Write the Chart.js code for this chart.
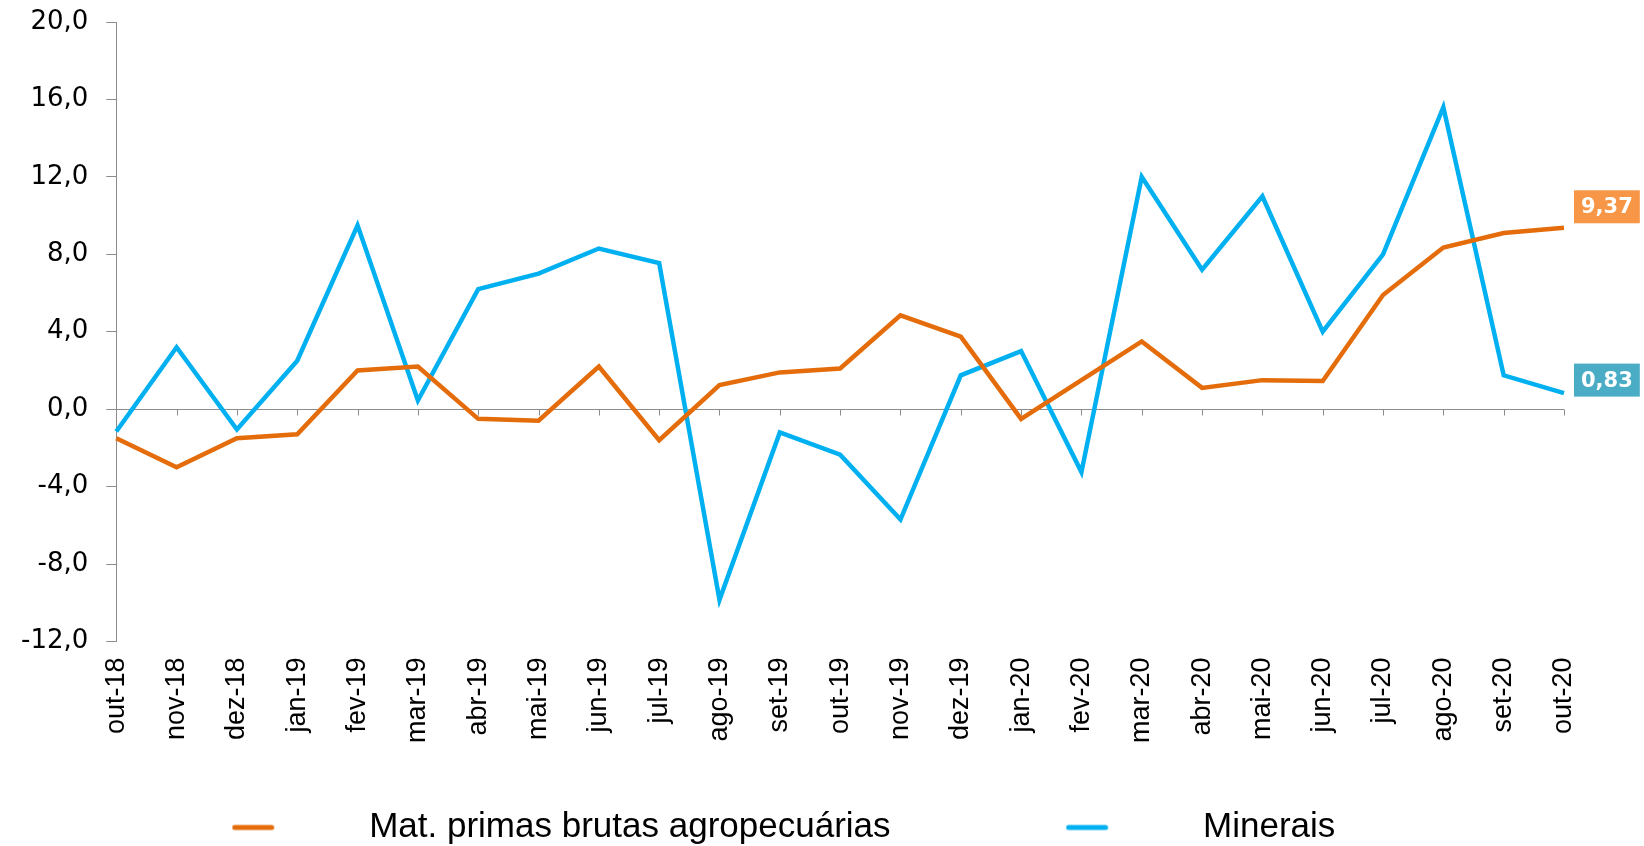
<!DOCTYPE html>
<html>
<head>
<meta charset="utf-8">
<script src="https://cdn.jsdelivr.net/npm/chart.js@4/dist/chart.umd.min.js"></script>
<style>
  html, body { margin: 0; padding: 0; background: #fff; }
  #wrap { width: 1644px; height: 846px; position: relative; }
</style>
</head>
<body>
<div id="wrap"><canvas id="chart"></canvas></div>
<script>
'use strict';

const months = ['out-18', 'nov-18', 'dez-18', 'jan-19', 'fev-19', 'mar-19', 'abr-19', 'mai-19',
  'jun-19', 'jul-19', 'ago-19', 'set-19', 'out-19', 'nov-19', 'dez-19', 'jan-20', 'fev-20',
  'mar-20', 'abr-20', 'mai-20', 'jun-20', 'jul-20', 'ago-20', 'set-20', 'out-20'];

const agro = [-1.5, -3.0, -1.5, -1.3, 2.0, 2.2, -0.5, -0.6, 2.2, -1.6, 1.25, 1.9, 2.1, 4.85,
  3.75, -0.5, 1.5, 3.5, 1.1, 1.5, 1.45, 5.9, 8.35, 9.1, 9.37];

const minerais = [-1.15, 3.2, -1.05, 2.5, 9.5, 0.45, 6.2, 7.0, 8.3, 7.55, -9.85, -1.2, -2.35,
  -5.7, 1.75, 3.0, -3.25, 12.0, 7.2, 11.0, 4.0, 8.0, 15.6, 1.75, 0.83];

const seriesNames = ['Mat. primas brutas agropecuárias', 'Minerais'];
const lineColors = ['#E46C0A', '#00B0F0'];
const tagColors = ['#F79646', '#4BACC6'];

const grey = '#8c8c8c';

// small line sample used as legend marker
function legendMark(color) {
  let c = document.createElement('canvas');
  c.width = 120;
  c.height = 8;
  let g = c.getContext('2d');
  g.strokeStyle = color;
  g.lineWidth = 5;
  g.lineCap = 'round';
  g.beginPath();
  g.moveTo(3, 4);
  g.lineTo(40, 4);
  g.stroke();
  return c;
}

// zero line with small ticks, drawn from the scales
const zeroAxis = {
  id: 'zeroAxis',
  beforeDatasetsDraw(chart) {
    let x = chart.scales.x, y = chart.scales.y;
    let ctx = chart.ctx;
    let y0 = Math.round(y.getPixelForValue(0)) + 0.5;
    ctx.save();
    ctx.strokeStyle = grey;
    ctx.lineWidth = 1;
    ctx.beginPath();
    ctx.moveTo(x.left, y0);
    ctx.lineTo(x.right, y0);
    for (let i = 1; i < months.length; i++) {
      let px = Math.round(x.getPixelForTick(i)) + 0.5;
      ctx.moveTo(px, y0);
      ctx.lineTo(px, y0 + 6);
    }
    ctx.stroke();
    ctx.restore();
  }
};

// value tags at the last point of each series
const endTags = {
  id: 'endTags',
  afterDatasetsDraw(chart) {
    let ctx = chart.ctx;
    let lift = [21, 13];
    ctx.save();
    ctx.font = 'bold 21px "DejaVu Sans"';
    ctx.textBaseline = 'middle';
    chart.data.datasets.forEach((ds, i) => {
      let meta = chart.getDatasetMeta(i);
      let pt = meta.data[meta.data.length - 1];
      let txt = ds.data[ds.data.length - 1].toFixed(2).replace('.', ',');
      let w = ctx.measureText(txt).width + 14;
      let h = 33;
      let bx = pt.x + 10;
      let cy = pt.y - lift[i];
      ctx.fillStyle = tagColors[i];
      ctx.fillRect(bx, cy - h / 2, w, h);
      ctx.fillStyle = '#fff';
      ctx.fillText(txt, bx + 7, cy + 1);
    });
    ctx.restore();
  }
};

const data = {
  labels: months,
  datasets: [
    {
      label: seriesNames[0],
      data: agro,
      borderColor: lineColors[0],
      backgroundColor: lineColors[0],
      borderWidth: 4.5,
      pointRadius: 0,
      tension: 0,
    },
    {
      label: seriesNames[1],
      data: minerais,
      borderColor: lineColors[1],
      backgroundColor: lineColors[1],
      borderWidth: 4.5,
      pointRadius: 0,
      tension: 0,
    },
  ],
};

const config = {
  type: 'line',
  data: data,
  plugins: [zeroAxis, endTags],
  options: {
    responsive: true,
    maintainAspectRatio: false,
    animation: false,
    layout: { padding: { top: 22, right: 80, left: 3, bottom: -9 } },
    scales: {
      x: {
        offset: false,
        grid: { display: false },
        border: { display: false },
        ticks: {
          autoSkip: false,
          minRotation: 90,
          maxRotation: 90,
          padding: 8,
          color: '#000',
          font: { family: '"Liberation Sans", Arial', size: 27 },
        },
        afterFit(axis) {
          axis.height += 59;
        },
      },
      y: {
        min: -12,
        max: 20,
        border: { display: true, color: grey },
        grid: { drawOnChartArea: false, drawTicks: true, tickLength: 10, color: grey },
        ticks: {
          stepSize: 4,
          padding: 18,
          color: '#000',
          font: { family: '"DejaVu Sans"', size: 26 },
          callback: (v) => v.toFixed(1).replace('.', ','),
        },
        afterFit(axis) {
          axis.paddingTop = 0;
        },
      },
    },
    plugins: {
      tooltip: { enabled: false },
      legend: {
        position: 'bottom',
        labels: {
          usePointStyle: true,
          pointStyleWidth: 120,
          padding: 0,
          color: '#000',
          font: { family: '"Liberation Sans", Arial', size: 35 },
          generateLabels(chart) {
            return chart.data.datasets.map((ds, i) => ({
              text: i === 0 ? ds.label + ' '.repeat(18) : ds.label,
              pointStyle: legendMark(lineColors[i]),
              fillStyle: lineColors[i],
              strokeStyle: lineColors[i],
              lineWidth: 0,
              datasetIndex: i,
              hidden: false,
            }));
          },
        },
      },
    },
  },
};

new Chart(document.getElementById('chart'), config);
</script>
</body>
</html>
